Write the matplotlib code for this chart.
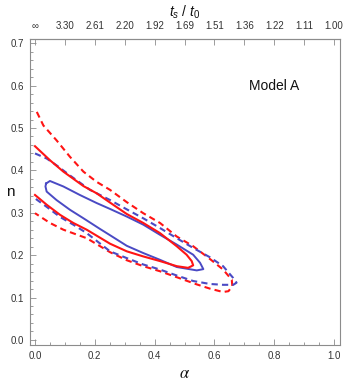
import numpy as np
import matplotlib
matplotlib.use("Agg")
import matplotlib.pyplot as plt
from matplotlib.ticker import MultipleLocator

# contours (alpha, n)
red_solid_x = [0.0, 0.050, 0.095, 0.162, 0.206, 0.251, 0.307, 0.362, 0.418, 0.474, 0.507, 0.524, 0.529,
               0.512, 0.474, 0.418, 0.362, 0.307, 0.251, 0.173, 0.128, 0.084, 0.039, 0.0]
red_solid_y = [0.457, 0.424, 0.397, 0.363, 0.346, 0.324, 0.297, 0.276, 0.252, 0.221, 0.201, 0.186, 0.176,
               0.170, 0.174, 0.186, 0.197, 0.209, 0.227, 0.260, 0.276, 0.295, 0.319, 0.342]

blue_solid_x = [0.037, 0.050, 0.095, 0.150, 0.206, 0.251, 0.307, 0.362, 0.418, 0.474, 0.529, 0.552, 0.563,
                0.541, 0.474, 0.418, 0.362, 0.307, 0.251, 0.217, 0.162, 0.117, 0.072, 0.039, 0.035, 0.037]
blue_solid_y = [0.369, 0.375, 0.362, 0.342, 0.323, 0.309, 0.291, 0.272, 0.248, 0.225, 0.201, 0.182, 0.167,
                0.164, 0.172, 0.189, 0.205, 0.222, 0.247, 0.262, 0.287, 0.307, 0.330, 0.350, 0.362, 0.369]

blue_dash_x = [0.0, 0.039, 0.072, 0.117, 0.184, 0.251, 0.307, 0.362, 0.418, 0.474, 0.529, 0.585, 0.629,
               0.663, 0.674, 0.663, 0.629, 0.585, 0.529, 0.474, 0.418, 0.362, 0.307, 0.251, 0.173, 0.128,
               0.084, 0.039, 0.0]
blue_dash_y = [0.440, 0.428, 0.412, 0.388, 0.354, 0.330, 0.308, 0.287, 0.264, 0.240, 0.217, 0.195, 0.174,
               0.146, 0.135, 0.130, 0.130, 0.132, 0.139, 0.152, 0.166, 0.178, 0.193, 0.209, 0.252, 0.272,
               0.290, 0.314, 0.334]

red_dash_x = [0.006, 0.028, 0.072, 0.117, 0.162, 0.206, 0.251, 0.307, 0.362, 0.418, 0.474, 0.529, 0.585,
              0.629, 0.658, 0.660, 0.647, 0.629, 0.585, 0.541, 0.474, 0.418, 0.362, 0.307, 0.251, 0.173,
              0.095, 0.050, 0.0]
red_dash_y = [0.538, 0.506, 0.471, 0.432, 0.397, 0.373, 0.354, 0.325, 0.299, 0.276, 0.244, 0.221, 0.191,
              0.166, 0.142, 0.127, 0.115, 0.113, 0.121, 0.131, 0.148, 0.162, 0.174, 0.188, 0.207, 0.240,
              0.260, 0.276, 0.299]

top_ticks = [0.0, 0.1, 0.2, 0.3, 0.4, 0.5, 0.6, 0.7, 0.8, 0.9, 1.0]
top_labels = ["∞", "3.30", "2.61", "2.20", "1.92", "1.69", "1.51", "1.36", "1.22", "1.11", "1.00"]

plt.rcParams['font.family'] = ['Liberation Sans', 'DejaVu Sans']
plt.rcParams['mathtext.fontset'] = 'custom'
plt.rcParams['mathtext.it'] = 'Liberation Sans:italic'
plt.rcParams['mathtext.rm'] = 'Liberation Sans'

red = "#ff1414"
blue = "#4a4ac4"
frame = "#8c8c8c"
txt = "#333333"

fig = plt.figure(figsize=(3.43, 3.82), dpi=100)
ax = fig.add_axes([30 / 343, 37 / 382, 310 / 343, 306 / 382])

ax.plot(red_dash_x, red_dash_y, color=red, lw=1.5, ls=(0, (3, 2)))
ax.plot(blue_dash_x, blue_dash_y, color=blue, lw=1.5, ls=(0, (3, 2)))
ax.plot(blue_solid_x, blue_solid_y, color=blue, lw=1.4)
ax.plot(red_solid_x, red_solid_y, color=red, lw=1.5)

ax.set_xlim(-0.0167, 1.02)
ax.set_ylim(-0.012, 0.71)

ax.xaxis.set_major_locator(MultipleLocator(0.2))
ax.xaxis.set_minor_locator(MultipleLocator(0.05))
ax.yaxis.set_major_locator(MultipleLocator(0.1))
ax.yaxis.set_minor_locator(MultipleLocator(0.02))
ax.xaxis.set_major_formatter(lambda v, p: f"{v:.1f}")
ax.yaxis.set_major_formatter(lambda v, p: f"{v:.1f}")

for s in ax.spines.values():
    s.set_color(frame)
    s.set_linewidth(0.8)

ax.tick_params(which="both", direction="in", color=frame, labelsize=7, labelcolor=txt,
               top=False, right=False, width=0.6)
ax.tick_params(which="major", length=4, pad=4)
ax.tick_params(which="minor", length=2)

sec = ax.secondary_xaxis("top")
sec.set_xticks(top_ticks)
sec.set_xticklabels(top_labels)
sec.tick_params(direction="in", length=4, width=0.6, color=frame, labelsize=7, labelcolor=txt, pad=6)
sec.spines["top"].set_color(frame)

# axis titles placed in axes coordinates
ax.text(0.5, 1.088, r"$t_s\ /\ t_0$", transform=ax.transAxes, fontsize=10,
        ha="center", va="center", color="#111111")
ax.text(0.5, -0.092, r"$\alpha$", transform=ax.transAxes, fontsize=12, math_fontfamily="stix",
        ha="center", va="center", color="#111111")
ax.text(-0.065, 0.5, "n", transform=ax.transAxes, fontsize=11, ha="center", va="center",
        color="#111111")

ax.text(0.80, 0.60, "Model A", fontsize=10, ha="center", va="center", color="#111111")

fig.savefig("out.png", dpi=100)
